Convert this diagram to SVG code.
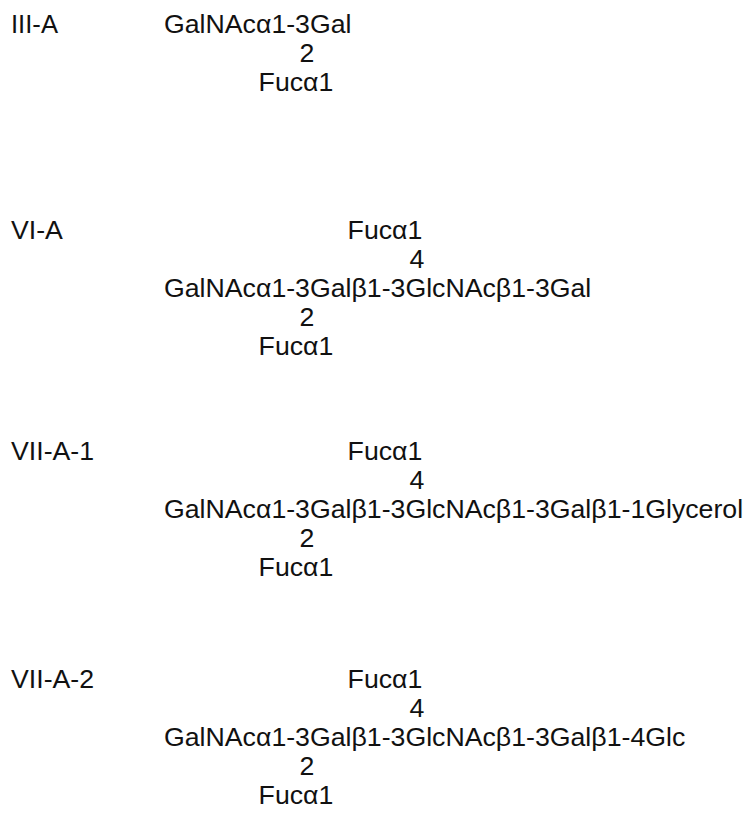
<svg xmlns="http://www.w3.org/2000/svg" width="745" height="822" viewBox="0 0 745 822">
<style>
text{font-family:"Liberation Sans",Arial,sans-serif;font-size:26.7px;fill:#111}
.m{text-anchor:middle}
</style>
<rect width="745" height="822" fill="#fff"/>
<g id="III-A">
<text x="11" y="33" textLength="47" lengthAdjust="spacingAndGlyphs">III-A</text>
<text x="164" y="33">GalNAcα1-3Gal</text>
<text class="m" x="307" y="62">2</text>
<text class="m" x="296" y="91">Fucα1</text>
</g>
<g id="VI-A">
<text x="11" y="239">VI-A</text>
<text class="m" x="385" y="239">Fucα1</text>
<text class="m" x="417" y="268">4</text>
<text x="164" y="297">GalNAcα1-3Galβ1-3GlcNAcβ1-3Gal</text>
<text class="m" x="307" y="326">2</text>
<text class="m" x="296" y="355">Fucα1</text>
</g>
<g id="VII-A-1">
<text x="11" y="460">VII-A-1</text>
<text class="m" x="385" y="460">Fucα1</text>
<text class="m" x="417" y="489">4</text>
<text x="164" y="518">GalNAcα1-3Galβ1-3GlcNAcβ1-3Galβ1-1Glycerol</text>
<text class="m" x="307" y="547">2</text>
<text class="m" x="296" y="576">Fucα1</text>
</g>
<g id="VII-A-2">
<text x="11" y="688">VII-A-2</text>
<text class="m" x="385" y="688">Fucα1</text>
<text class="m" x="417" y="717">4</text>
<text x="164" y="746">GalNAcα1-3Galβ1-3GlcNAcβ1-3Galβ1-4Glc</text>
<text class="m" x="307" y="775">2</text>
<text class="m" x="296" y="804">Fucα1</text>
</g>
</svg>
